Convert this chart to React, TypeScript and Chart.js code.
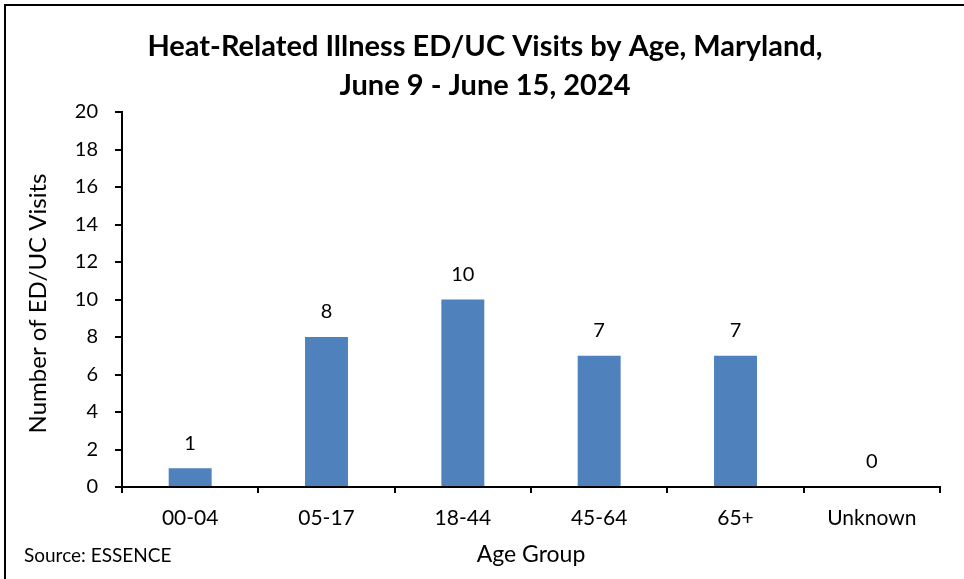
import React, { useEffect, useRef } from "react";
import { Chart, registerables } from "chart.js";

Chart.register(...registerables);

const categories = ["00-04", "05-17", "18-44", "45-64", "65+", "Unknown"];
const visits = [1, 8, 10, 7, 7, 0];
const titleLines = ["Heat-Related Illness ED/UC Visits by Age, Maryland,", "June 9 - June 15, 2024"];
const yAxisTitle = "Number of ED/UC Visits";
const xAxisTitle = "Age Group";
const sourceText = "Source: ESSENCE";

const FONT = "Lato, 'Open Sans', sans-serif";

const decorPlugin = {
  id: "decor",
  afterDraw(chart: any) {
    const ctx = chart.ctx;
    const area = chart.chartArea;
    ctx.save();
    // frame
    ctx.strokeStyle = "#000";
    ctx.lineWidth = 2;
    ctx.strokeRect(5, 5, chart.width + 10, chart.height + 10);
    ctx.fillStyle = "#000";
    ctx.textAlign = "center";
    ctx.textBaseline = "middle";
    // title
    ctx.font = `bold 29px ${FONT}`;
    ctx.fillText(titleLines[0], chart.width / 2 + 3, 47);
    ctx.fillText(titleLines[1], chart.width / 2 + 3, 86);
    // data labels
    ctx.font = `20px ${FONT}`;
    const meta = chart.getDatasetMeta(0);
    meta.data.forEach((bar: any, i: number) => {
      ctx.fillText(String(visits[i]), bar.x, bar.y - 25);
    });
    // x axis title
    ctx.font = `23px ${FONT}`;
    ctx.fillText(xAxisTitle, (area.left + area.right) / 2, 555);
    // y axis title
    ctx.save();
    ctx.translate(38, (area.top + area.bottom) / 2 + 4);
    ctx.rotate(-Math.PI / 2);
    ctx.font = `24px ${FONT}`;
    ctx.fillText(yAxisTitle, 0, 0);
    ctx.restore();
    // source
    ctx.font = `19px ${FONT}`;
    ctx.textAlign = "left";
    ctx.fillText(sourceText, 24, 556);
    ctx.restore();
  },
};

export default function App() {
  const ref = useRef<HTMLCanvasElement>(null);
  useEffect(() => {
    document.body.style.margin = "0";
    const chart = new Chart(ref.current!, {
      type: "bar",
      data: {
        labels: categories,
        datasets: [
          {
            data: visits,
            backgroundColor: "#4F81BD",
            borderWidth: 0,
            barPercentage: 0.315,
            categoryPercentage: 1,
          },
        ],
      },
      options: {
        animation: false,
        responsive: false,
        layout: { padding: { left: 60, top: 112, right: 24, bottom: 52 } },
        plugins: { legend: { display: false }, tooltip: { enabled: false }, title: { display: false } },
        scales: {
          x: {
            offset: true,
            grid: { display: true, drawOnChartArea: false, drawTicks: true, tickLength: 6, color: "#000", lineWidth: 2, offset: true },
            border: { display: true, color: "#000", width: 2 },
            ticks: { color: "#000", font: { family: FONT, size: 21 }, padding: 13 },
            afterFit: (s: any) => {
              s.height = 40;
            },
          },
          y: {
            min: 0,
            max: 20,
            ticks: { stepSize: 2, color: "#000", font: { family: FONT, size: 20 }, padding: 17 },
            grid: { display: true, drawOnChartArea: false, drawTicks: true, tickLength: 7, color: "#000", lineWidth: 2 },
            border: { display: true, color: "#000", width: 2 },
            afterFit: (s: any) => {
              s.width = 62;
            },
          },
        },
      },
      plugins: [decorPlugin],
    });
    return () => chart.destroy();
  }, []);
  return <canvas ref={ref} width={964} height={579} style={{ display: "block", width: 964, height: 579 }} />;
}
